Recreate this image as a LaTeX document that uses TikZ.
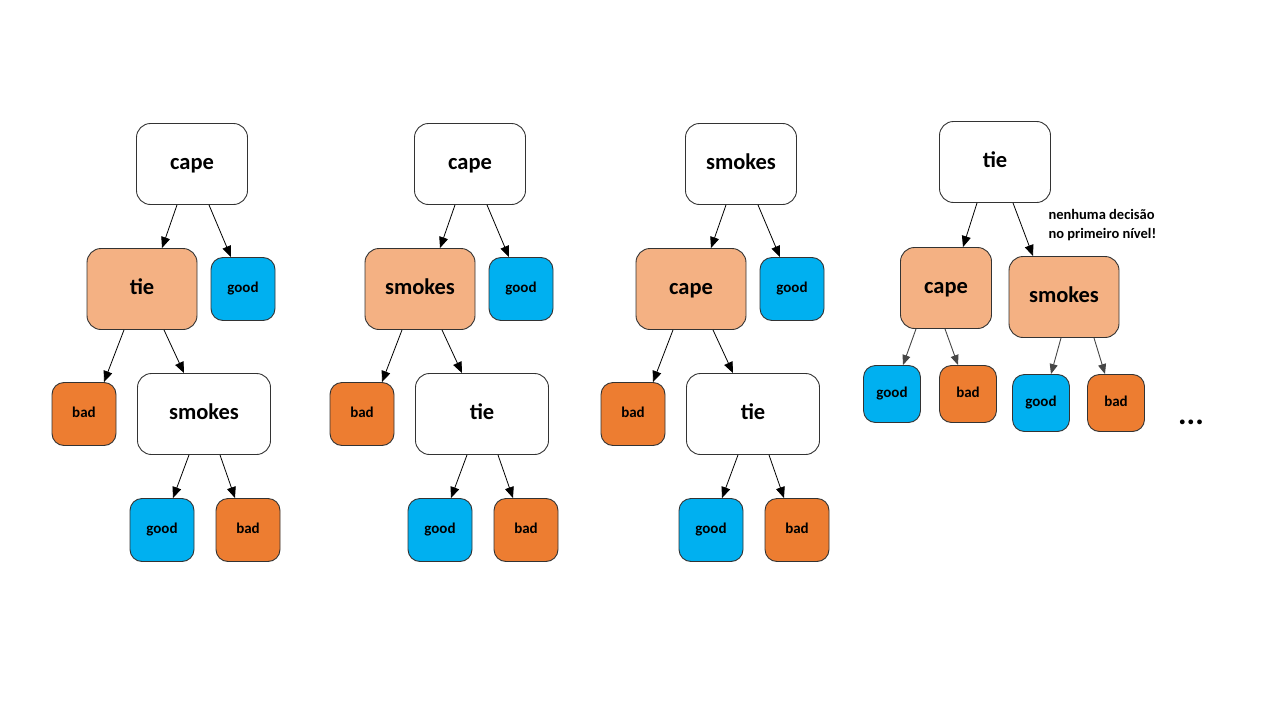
\documentclass[tikz,border=0pt]{standalone}
\usepackage{fontspec}
\setmainfont{Carlito}
\usetikzlibrary{arrows.meta,positioning}
\definecolor{leafblue}{RGB}{0,176,240}
\definecolor{leaforange}{RGB}{237,125,49}
\definecolor{splitpeach}{RGB}{244,177,131}
\definecolor{edgegray}{RGB}{70,70,70}
\tikzset{
    % Box styles
    test box/.style={
        draw=black!80,
        fill=white,
        line width=0.9pt,
        rounded corners=14pt,
        minimum width=111pt,
        minimum height=81pt,
        inner sep=0pt,
        text height=10.5pt,
        text depth=0pt,
        font=\bfseries\fontsize{22.5}{26}\selectfont
    },
    split box/.style={
        test box,
        fill=splitpeach
    },
    good leaf/.style={
        draw=black!80,
        fill=leafblue,
        line width=0.9pt,
        rounded corners=12pt,
        minimum width=64pt,
        minimum height=63pt,
        inner sep=0pt,
        text height=7pt,
        text depth=0pt,
        font=\bfseries\fontsize{15}{18}\selectfont
    },
    bad leaf/.style={
        good leaf,
        fill=leaforange
    },
    note/.style={
        align=left,
        font=\bfseries\fontsize{14.5}{19}\selectfont
    },
    % Arrow styles
    branch/.style={
        -{Triangle[length=11pt,width=9pt]},
        line width=0.8pt,
        black
    },
    small branch/.style={
        -{Triangle[length=10pt,width=8pt]},
        line width=0.9pt,
        edgegray
    }
}

\begin{document}
\begin{tikzpicture}[x=1pt, y=-1pt]
    \useasboundingbox (0,0) rectangle (1280,720);

    % Three complete trees
    \foreach \t/\dx/\rootname/\midname/\lowname in
        {1/0/cape/tie/smokes, 2/278/cape/smokes/tie, 3/549/smokes/cape/tie} {
        \begin{scope}[xshift=\dx]
            \node[test box] (root\t) at (192,164) {\rootname};
            \node[split box, minimum width=110pt] (mid\t) at (142,289) {\midname};
            \node[good leaf] (good\t) at (243,289) {good};
            \node[bad leaf] (bad\t) at (84,414) {bad};
            \node[test box, minimum width=133pt] (low\t) at (204,414) {\lowname};
            \node[good leaf] (lowgood\t) at (162,530) {good};
            \node[bad leaf] (lowbad\t) at (248,530) {bad};

            % Connections
            \draw[branch] ([xshift=-15pt]root\t.south) -- ([xshift=20pt]mid\t.north);
            \draw[branch] ([xshift=17pt]root\t.south) -- ([xshift=-12pt]good\t.north);
            \draw[branch] ([xshift=-18pt]mid\t.south) -- ([xshift=20pt]bad\t.north);
            \draw[branch] ([xshift=22pt]mid\t.south) -- ([xshift=-20pt]low\t.north);
            \draw[branch] ([xshift=-15pt]low\t.south) -- ([xshift=11pt]lowgood\t.north);
            \draw[branch] ([xshift=16pt]low\t.south) -- ([xshift=-13pt]lowbad\t.north);
        \end{scope}
    }

    % Fourth tree, no decision on the first level
    \node[test box] (root4) at (995,162) {tie};
    \node[split box, minimum width=91pt] (cape4) at (946,288) {cape};
    \node[split box, minimum width=110pt] (smokes4) at (1064,297) {smokes};
    \foreach \i/\x/\y/\kind/\word in {1/892/394/good/good, 2/968/394/bad/bad,
                                      3/1041/403/good/good, 4/1116/403/bad/bad} {
        \node[\kind\space leaf, minimum width=57pt, minimum height=57pt] (leaf\i) at (\x,\y) {\word};
    }

    \draw[branch] ([xshift=-18pt]root4.south) -- ([xshift=17pt]cape4.north);
    \draw[branch] ([xshift=18pt]root4.south) -- ([xshift=-31pt]smokes4.north);
    \draw[small branch] ([xshift=-30pt]cape4.south) -- ([xshift=11pt]leaf1.north);
    \draw[small branch] ([xshift=-1pt]cape4.south) -- ([xshift=-10pt]leaf2.north);
    \draw[small branch] ([xshift=-3pt]smokes4.south) -- ([xshift=10pt]leaf3.north);
    \draw[small branch] ([xshift=30pt]smokes4.south) -- ([xshift=-11pt]leaf4.north);

    % Annotations
    \node[note, anchor=west] (remark) at (1045,225) {nenhuma decisão\\no primeiro nível!};
    \node[font=\bfseries\fontsize{32}{34}\selectfont] (more) at (1191,422) {...};
\end{tikzpicture}
\end{document}
